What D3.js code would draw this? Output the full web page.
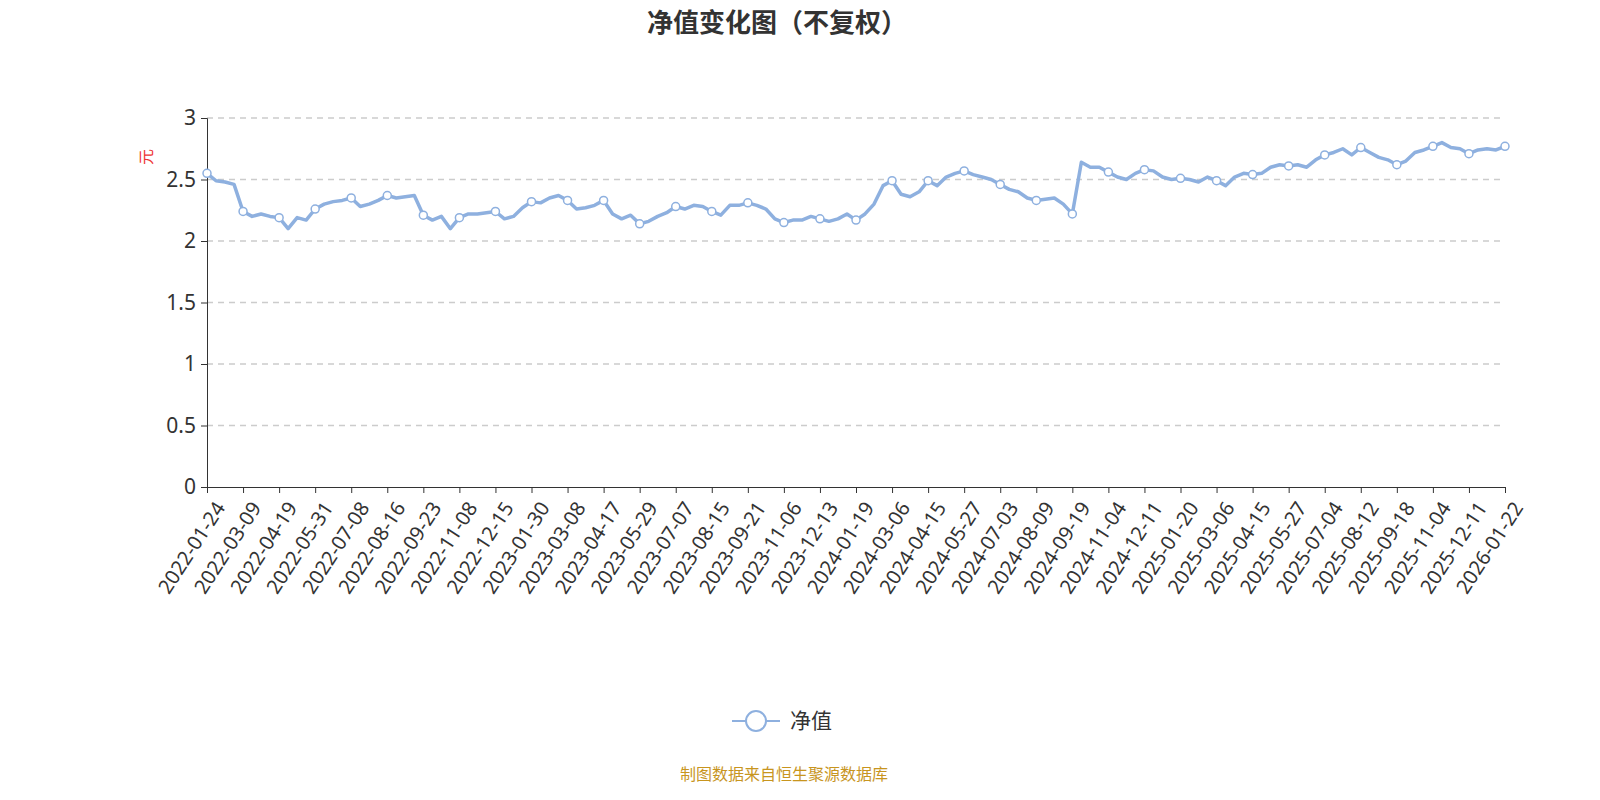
<!DOCTYPE html>
<html><head><meta charset="utf-8">
<script src="https://cdn.jsdelivr.net/npm/d3@7/dist/d3.min.js"></script>
<style>body{margin:0;background:#fff;font-family:"Noto Sans CJK SC","Noto Sans",sans-serif}</style>
</head><body><svg id="c" width="1600" height="800"></svg>
<script>
const tickLabels = ["2022-01-24","2022-03-09","2022-04-19","2022-05-31","2022-07-08","2022-08-16","2022-09-23","2022-11-08","2022-12-15","2023-01-30","2023-03-08","2023-04-17","2023-05-29","2023-07-07","2023-08-15","2023-09-21","2023-11-06","2023-12-13","2024-01-19","2024-03-06","2024-04-15","2024-05-27","2024-07-03","2024-08-09","2024-09-19","2024-11-04","2024-12-11","2025-01-20","2025-03-06","2025-04-15","2025-05-27","2025-07-04","2025-08-12","2025-09-18","2025-11-04","2025-12-11","2026-01-22"];
const navValues = [
2.55,2.49,2.48,2.46, 2.24,2.20,2.22,2.20, 2.19,2.10,2.19,2.17, 2.26,2.30,2.32,2.33,
2.35,2.28,2.30,2.33, 2.37,2.35,2.36,2.37, 2.21,2.17,2.20,2.10, 2.19,2.22,2.22,2.23,
2.24,2.18,2.20,2.27, 2.32,2.31,2.35,2.37, 2.33,2.26,2.27,2.29, 2.33,2.22,2.18,2.21,
2.14,2.16,2.20,2.23, 2.28,2.26,2.29,2.28, 2.24,2.21,2.29,2.29, 2.31,2.29,2.26,2.18,
2.15,2.17,2.17,2.20, 2.18,2.16,2.18,2.22, 2.17,2.22,2.30,2.45, 2.49,2.38,2.36,2.40,
2.49,2.45,2.52,2.55, 2.57,2.54,2.52,2.50, 2.46,2.42,2.40,2.35, 2.33,2.34,2.35,2.30,
2.22,2.64,2.60,2.60, 2.56,2.52,2.50,2.55, 2.58,2.57,2.52,2.50, 2.51,2.50,2.48,2.52,
2.49,2.45,2.52,2.55, 2.54,2.55,2.60,2.62, 2.61,2.62,2.60,2.66, 2.70,2.72,2.75,2.70,
2.76,2.72,2.68,2.66, 2.62,2.65,2.72,2.74, 2.77,2.80,2.76,2.75, 2.71,2.74,2.75,2.74,
2.77];
const yTicks = [0,0.5,1,1.5,2,2.5,3];
const step = 4;

const svg = d3.select("#c");
const x = d3.scaleLinear().domain([0, navValues.length-1]).range([207,1505]);
const y = d3.scaleLinear().domain([0,3]).range([487,118]);
const blue = "#8eb0df";

svg.append("text").attr("x",777).attr("y",32).attr("text-anchor","middle")
 .attr("font-size",26).attr("font-weight","bold").attr("fill","#333").text("净值变化图（不复权）");

svg.append("g").selectAll("line").data(yTicks.filter(d=>d>0)).join("line")
 .attr("x1",207).attr("x2",1505).attr("y1",d=>y(d)).attr("y2",d=>y(d))
 .attr("stroke","#ccc").attr("stroke-dasharray","6,5").attr("stroke-width",1.3);

const ya = svg.append("g").attr("transform","translate(207,0)")
 .call(d3.axisLeft(y).tickValues(yTicks).tickFormat(d3.format("")).tickSize(6));
ya.selectAll("text").attr("font-size",21).attr("fill","#333").attr("font-family","Noto Sans").attr("dx",-2);
ya.selectAll("line,path").attr("stroke","#333");

const tickIdx = tickLabels.map((d,i)=>i*step);
const xa = svg.append("g").attr("transform","translate(0,487)")
 .call(d3.axisBottom(x).tickValues(tickIdx).tickFormat((d,i)=>tickLabels[i]).tickSize(6).tickSizeOuter(0));
xa.selectAll("line,path").attr("stroke","#333");
xa.selectAll("text").attr("font-size",20).attr("fill","#333").attr("font-family","Noto Sans")
 .attr("text-anchor","end").attr("dy","0.35em").attr("transform","translate(5,12) rotate(-57)");

svg.append("text").attr("transform","translate(152,157) rotate(-90)").attr("text-anchor","middle")
 .attr("font-size",16).attr("fill","#e33").text("元");

svg.append("path").datum(navValues)
 .attr("d", d3.line().x((d,i)=>x(i)).y(d=>y(d)))
 .attr("fill","none").attr("stroke",blue).attr("stroke-width",3.5).attr("stroke-linejoin","round");

svg.append("g").selectAll("circle").data(tickIdx).join("circle")
 .attr("cx",d=>x(d)).attr("cy",d=>y(navValues[d])).attr("r",4)
 .attr("fill","#fff").attr("stroke",blue).attr("stroke-width",1.5);

svg.append("line").attr("x1",732).attr("x2",780).attr("y1",721).attr("y2",721).attr("stroke",blue).attr("stroke-width",2);
svg.append("circle").attr("cx",756).attr("cy",721).attr("r",10).attr("fill","#fff").attr("stroke",blue).attr("stroke-width",2);
svg.append("text").attr("x",790).attr("y",728).attr("font-size",21).attr("fill","#333").text("净值");

svg.append("text").attr("x",784).attr("y",780).attr("text-anchor","middle").attr("font-size",16)
 .attr("fill","#c8951e").text("制图数据来自恒生聚源数据库");
</script></body></html>
